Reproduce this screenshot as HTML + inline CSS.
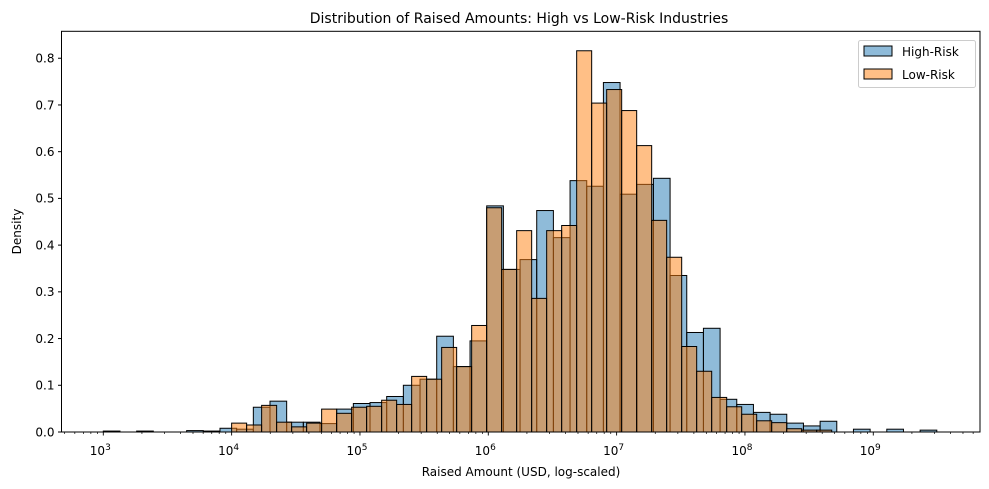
<!DOCTYPE html>
<html><head><meta charset="utf-8"><style>
html,body{margin:0;padding:0;background:#fff;}
svg{display:block;font-family:"DejaVu Sans","Liberation Sans",sans-serif;}
</style></head><body>
<svg id="chart" width="989" height="489" viewBox="0 0 989 489">
<rect x="0" y="0" width="989" height="489" fill="#fff"/>
<text x="519" y="23" font-size="14" text-anchor="middle" fill="#000">Distribution of Raised Amounts: High vs Low-Risk Industries</text>
<g id="bars"></g>
<g id="axes"></g>
<text x="521" y="476" font-size="12" text-anchor="middle">Raised Amount (USD, log-scaled)</text>
<text transform="translate(21,231.5) rotate(-90)" font-size="12" text-anchor="middle">Density</text>
<g>
<rect x="858.5" y="40.5" width="117" height="47" rx="2" fill="#fff" fill-opacity="0.8" stroke="#ccc"/>
<g>
<rect x="864" y="46" width="28" height="10" fill="rgba(31,119,180,0.5)" stroke="#000"/>
<text x="902" y="56" font-size="12">High-Risk</text></g>
<g>
<rect x="864" y="69" width="28" height="10" fill="rgba(255,127,14,0.5)" stroke="#000"/>
<text x="902" y="79" font-size="12">Low-Risk</text></g>
</g>
</svg>
<script>
// High-Risk histogram: log10 bin start, log10 bin width, densities
const highStart = 3.0;
const highWidth = 0.1299;
const highValues = [0.002,0,0.002,0,0,0.003,0.002,0.008,0.006,0.053,0.066,0.021,0.021,0.018,0.049,0.061,0.063,0.076,0.1,0.113,0.205,0.14,0.195,0.484,0.348,0.369,0.474,0.416,0.538,0.526,0.748,0.509,0.53,0.543,0.335,0.213,0.222,0.07,0.059,0.042,0.038,0.019,0.013,0.023,0,0.006,0,0.006,0,0.004];
// Low-Risk histogram
const lowStart = 4.0;
const lowWidth = 0.1169;
const lowValues = [0.019,0.015,0.057,0.021,0.011,0.019,0.049,0.04,0.053,0.055,0.068,0.059,0.119,0.113,0.181,0.14,0.228,0.48,0.348,0.431,0.286,0.431,0.442,0.816,0.704,0.733,0.688,0.613,0.453,0.374,0.183,0.13,0.074,0.054,0.038,0.024,0.02,0.007,0.004,0.004];
const yTicks = [0,0.1,0.2,0.3,0.4,0.5,0.6,0.7,0.8];
const yTickLabels = ["0.0","0.1","0.2","0.3","0.4","0.5","0.6","0.7","0.8"];
const xDecades = [3,4,5,6,7,8,9];

const L=61.5,R=980,T=31.3,B=432;
const X0=103.3, PX=128.33;
function xs(l){return X0+(l-3)*PX;}
function ys(v){return B-v*467.2;}
const NS="http://www.w3.org/2000/svg";
const bars=document.getElementById('bars'), axes=document.getElementById('axes');
function mk(tag,attrs,parent){const e=document.createElementNS(NS,tag);for(const k in attrs)e.setAttribute(k,attrs[k]);parent.appendChild(e);return e;}

function drawSeries(start,w,vals,fill,name){
  vals.forEach((v,i)=>{
    const x1=xs(start+i*w), x2=xs(start+(i+1)*w);
    const r=mk('rect',{x:x1,y:ys(v),width:x2-x1,height:B-ys(v),fill:fill,stroke:'#000','stroke-width':1},bars);
    
    
  });
}
drawSeries(highStart,highWidth,highValues,'rgba(31,119,180,0.5)','high-risk');
drawSeries(lowStart,lowWidth,lowValues,'rgba(255,127,14,0.5)','low-risk');

// frame
const fr=mk('rect',{x:L,y:T,width:R-L,height:B-T,fill:'none',stroke:'#000','stroke-width':1},axes);



yTicks.forEach((v,i)=>{
  const y=ys(v);
  const t=mk('line',{x1:L-3.5,x2:L,y1:y,y2:y,stroke:'#000'},axes);
  
  
  const tx=mk('text',{x:L-7,y:y+4.3,'font-size':12,'text-anchor':'end'},axes);
  tx.textContent=yTickLabels[i];
  
  
});

for(let d=2; d<=9; d++){
  for(let m=1;m<10;m++){
    const l=d+Math.log10(m), x=xs(l);
    if(x<L||x>R) continue;
    const major=(m===1);
    const t=mk('line',{x1:x,x2:x,y1:B,y2:B+(major?3.5:2),stroke:'#000','stroke-width':major?0.9:0.7},axes);
    
    
  }
}
xDecades.forEach(d=>{
  const x=xs(d);
  const tx=mk('text',{x:x-3,y:455,'font-size':12,'text-anchor':'middle'},axes);
  tx.textContent='10';
  const sp=mk('tspan',{dy:-5,'font-size':9},tx);
  sp.textContent=String(d);
  
  
});
</script>
</body></html>
